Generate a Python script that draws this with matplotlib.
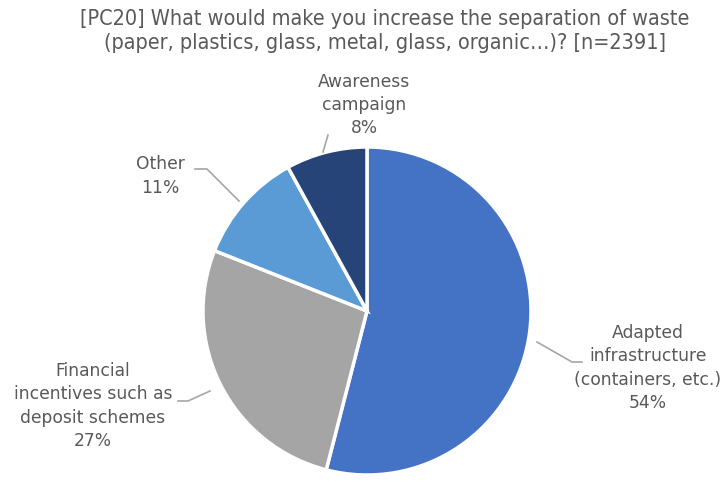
import matplotlib
matplotlib.use("Agg")
import matplotlib.pyplot as plt

# survey answers, clockwise from 12 o'clock
categories = ["Adapted\ninfrastructure\n(containers, etc.)",
              "Financial\nincentives such as\ndeposit schemes",
              "Other",
              "Awareness\ncampaign"]
shares = [54, 27, 11, 8]
colors = ["#4472C4", "#A5A5A5", "#5B9BD5", "#264478"]
title = ("[PC20] What would make you increase the separation of waste\n"
         "(paper, plastics, glass, metal, glass, organic\u2026)? [n=2391]")

W, H = 727, 487
txt_color = "#595959"

fig = plt.figure(figsize=(W / 100, H / 100), dpi=100)
ax = fig.add_axes([0, 0, 1, 1])

# pixel coords measured from the top, flip to data coords
def py(y):
    return H - y

cx, cy, r = 367, 311, 164
ax.pie(shares, colors=colors, startangle=90, counterclock=False,
       center=(cx, py(cy)), radius=r, frame=True,
       wedgeprops=dict(edgecolor="white", linewidth=2.5))
ax.set_xlim(0, W)
ax.set_ylim(0, H)
ax.set_aspect("equal")
ax.axis("off")

# label centres and leader lines (pixel coords)
label_pos = [(648, 368), (93, 406), (160, 176), (364, 105)]
leaders = [
    [(537, 342), (572, 362), (582, 362)],
    [(210, 391), (188, 401), (178, 401)],
    [(239, 201), (207, 169), (195, 169)],
    [(323, 152), (328, 135)],
]

for name, val, (lx, ly), pts in zip(categories, shares, label_pos, leaders):
    ax.text(lx, py(ly), f"{name}\n{val}%", ha="center", va="center",
            fontsize=12.3, color=txt_color, linespacing=1.36)
    xs = [p[0] for p in pts]
    ys = [py(p[1]) for p in pts]
    ax.plot(xs, ys, color="#A6A6A6", lw=1.2)

ax.text(385, py(31), title, ha="center", va="center", fontsize=15.5,
        color=txt_color, linespacing=1.2, fontstretch="condensed")

fig.savefig("out.png", dpi=100, facecolor="white")
